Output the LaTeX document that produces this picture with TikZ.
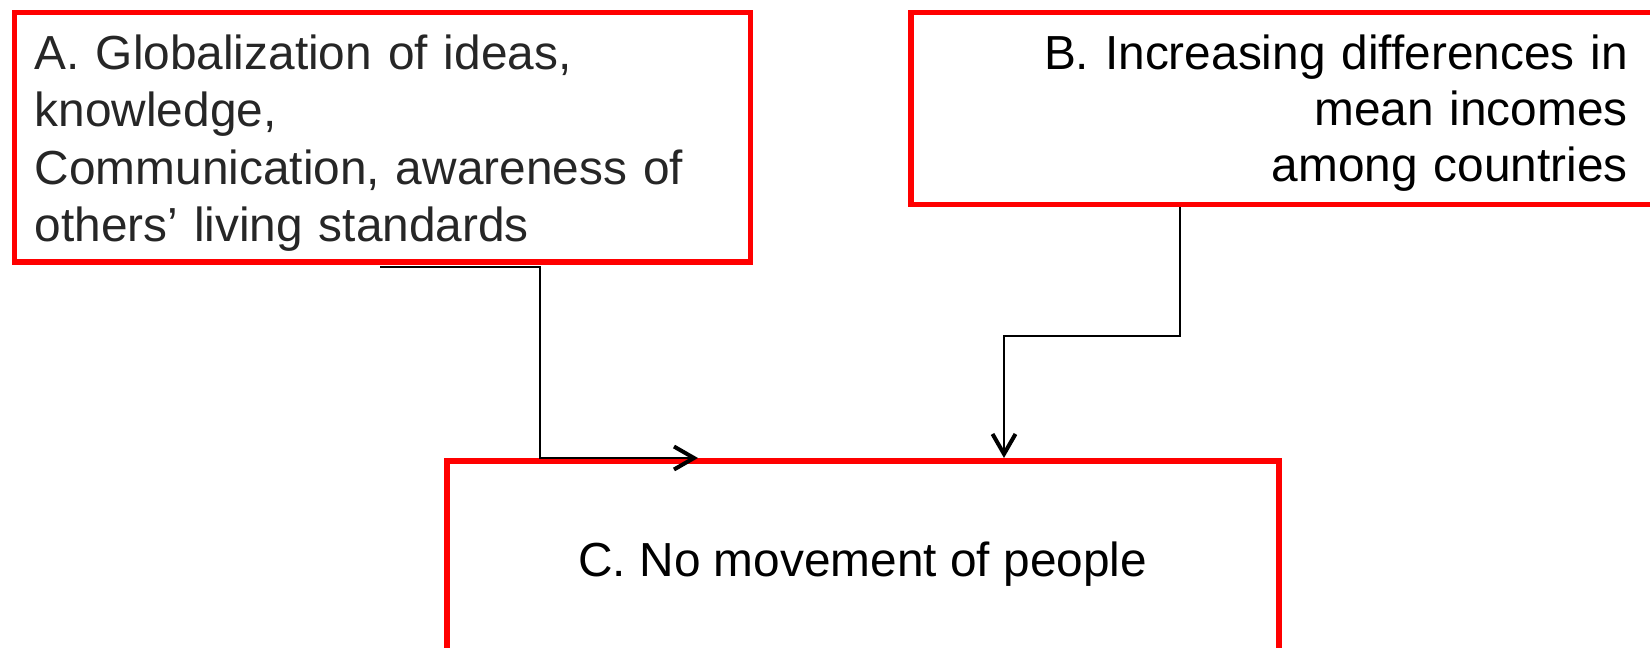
\documentclass[tikz,border=0pt]{standalone}
\usepackage{fontspec}
\setmainfont{Liberation Sans}
\usetikzlibrary{arrows.meta,calc}
\begin{document}
\begin{tikzpicture}[x=1pt,y=-1pt,
  box/.style={draw=red, line width=5.5pt, inner ysep=0pt, anchor=north west},
  conn/.style={draw=black, line width=2pt, -{Straight Barb[length=20pt,width=23pt,line width=4pt]}}]
\useasboundingbox (0,0) rectangle (1650,648);
\node[box, text width=695pt, inner xsep=20.5pt, align=left,
      text height=57.2pt, text depth=192.3pt, text=black!85,
      font=\fontsize{47.8}{57.5}\selectfont] (A) at (11.5,9.5)
  {A. Globalization of ideas,\\ knowledge,\\ Communication, awareness of\\ others’ living standards};
\node[box, text width=682pt, inner xsep=35pt, align=right,
      text height=57.2pt, text depth=134.8pt, text=black,
      font=\fontsize{47.8}{56.2}\selectfont] (B) at (908,9.5)
  {B. Increasing differences in\\ mean incomes\\ among countries};
\node[box, minimum width=832pt, inner xsep=0pt, align=center,
      text height=115.3pt, text depth=86.7pt, text=black,
      font=\fontsize{47.8}{57.5}\selectfont] (C) at (444,458)
  {C. No movement of people};
\coordinate (a0) at ($(A.south west)+(368.5,2.5)$);
\coordinate (a1) at ($(C.north west)+(254,0)$);
\coordinate (b0) at ($(B.south west)+(272,0)$);
\coordinate (b1) at ($(C.north west)+(560,0)$);
\draw[conn] (a0) -- ++(160,0) |- (a1);
\draw[conn] (b0) -- ++(0,128.5) -| (b1);
\end{tikzpicture}
\end{document}
